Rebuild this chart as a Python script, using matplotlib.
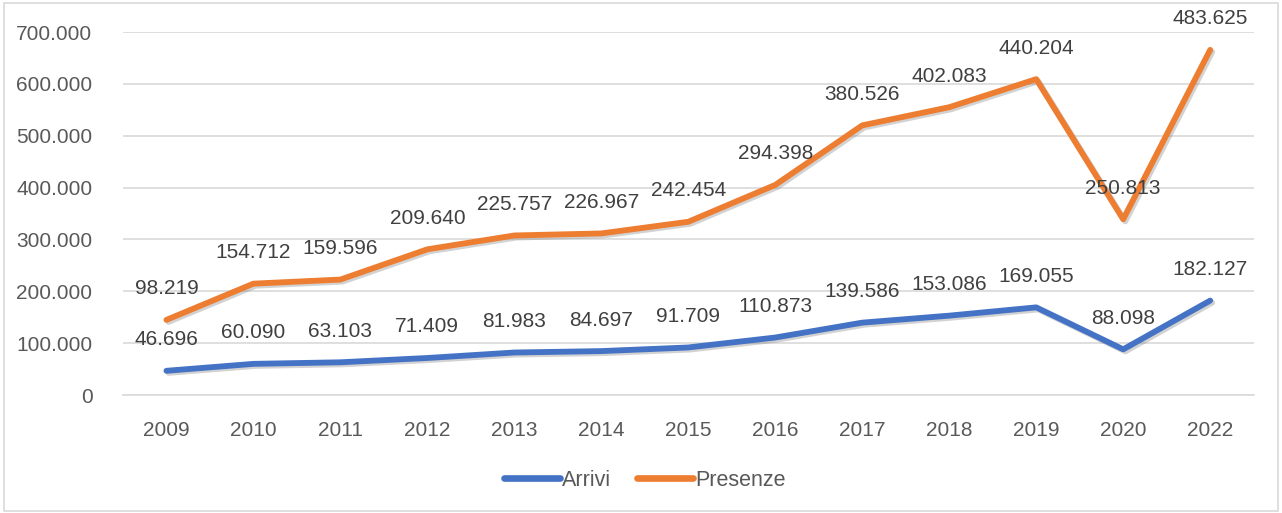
import matplotlib.pyplot as plt
import matplotlib.patheffects as pe
from matplotlib.patches import Rectangle
from matplotlib.ticker import FuncFormatter
import numpy as np

years = ["2009", "2010", "2011", "2012", "2013", "2014", "2015",
         "2016", "2017", "2018", "2019", "2020", "2022"]
arrivi = [46696, 60090, 63103, 71409, 81983, 84697, 91709,
          110873, 139586, 153086, 169055, 88098, 182127]
presenze = [98219, 154712, 159596, 209640, 225757, 226967, 242454,
            294398, 380526, 402083, 440204, 250813, 483625]

BLUE = "#4472C4"
ORANGE = "#ED7D31"
TXT = "#595959"

plt.rcParams['font.family'] = ['Liberation Sans', 'DejaVu Sans']


def it_fmt(v, pos=None):
    return f"{v:,.0f}".replace(",", ".")


fig = plt.figure(figsize=(12.82, 5.13), dpi=100)
ax = fig.add_axes([0.0959, 0.230, 0.882, 0.7074])

x = np.arange(len(years))
# stacked line chart: Presenze drawn on top of Arrivi
stacked = np.array(arrivi) + np.array(presenze)

shadow = [pe.SimpleLineShadow(offset=(1.5, -1.5), shadow_color="gray", alpha=0.35), pe.Normal()]
ax.plot(x, arrivi, color=BLUE, lw=4.2, solid_capstyle="round", label="Arrivi",
        path_effects=shadow, zorder=3)
ax.plot(x, stacked, color=ORANGE, lw=4.2, solid_capstyle="round", label="Presenze",
        path_effects=shadow, zorder=3)

for i in x:
    ax.annotate(it_fmt(arrivi[i]), (i, arrivi[i]), xytext=(0, 31), textcoords="offset pixels",
                ha="center", va="center", fontsize=15, color="#404040", zorder=4)
    ax.annotate(it_fmt(presenze[i]), (i, stacked[i]), xytext=(0, 31), textcoords="offset pixels",
                ha="center", va="center", fontsize=15, color="#404040", zorder=4)

ax.set_xlim(-0.5, len(years) - 0.5)
ax.set_ylim(0, 700000)
ax.set_yticks(np.arange(0, 700001, 100000))
ax.yaxis.set_major_formatter(FuncFormatter(it_fmt))
ax.set_xticks(x)
ax.set_xticklabels(years)
ax.grid(axis="y", color="#D9D9D9", lw=1.2)
ax.set_axisbelow(True)
for s in ["top", "right", "left"]:
    ax.spines[s].set_visible(False)
ax.spines["bottom"].set_color("#D9D9D9")
ax.spines["bottom"].set_linewidth(1.2)
ax.tick_params(axis="both", length=0, labelsize=15, colors=TXT)
ax.tick_params(axis="y", pad=22)
ax.tick_params(axis="x", pad=19)

leg = fig.legend(loc="center", bbox_to_anchor=(0.503, 0.064), ncol=2, frameon=False,
                 fontsize=15.5, handlelength=2.6, handletextpad=0.1, columnspacing=1.2)
for t in leg.get_texts():
    t.set_color(TXT)
for h in leg.get_lines():
    h.set_linewidth(4.8)
    h.set_path_effects([])

fig.patches.append(Rectangle((0.003, 0.004), 0.994, 0.99, transform=fig.transFigure,
                             fill=False, edgecolor="#D9D9D9", lw=1.2))

fig.savefig("out.png", dpi=100)
